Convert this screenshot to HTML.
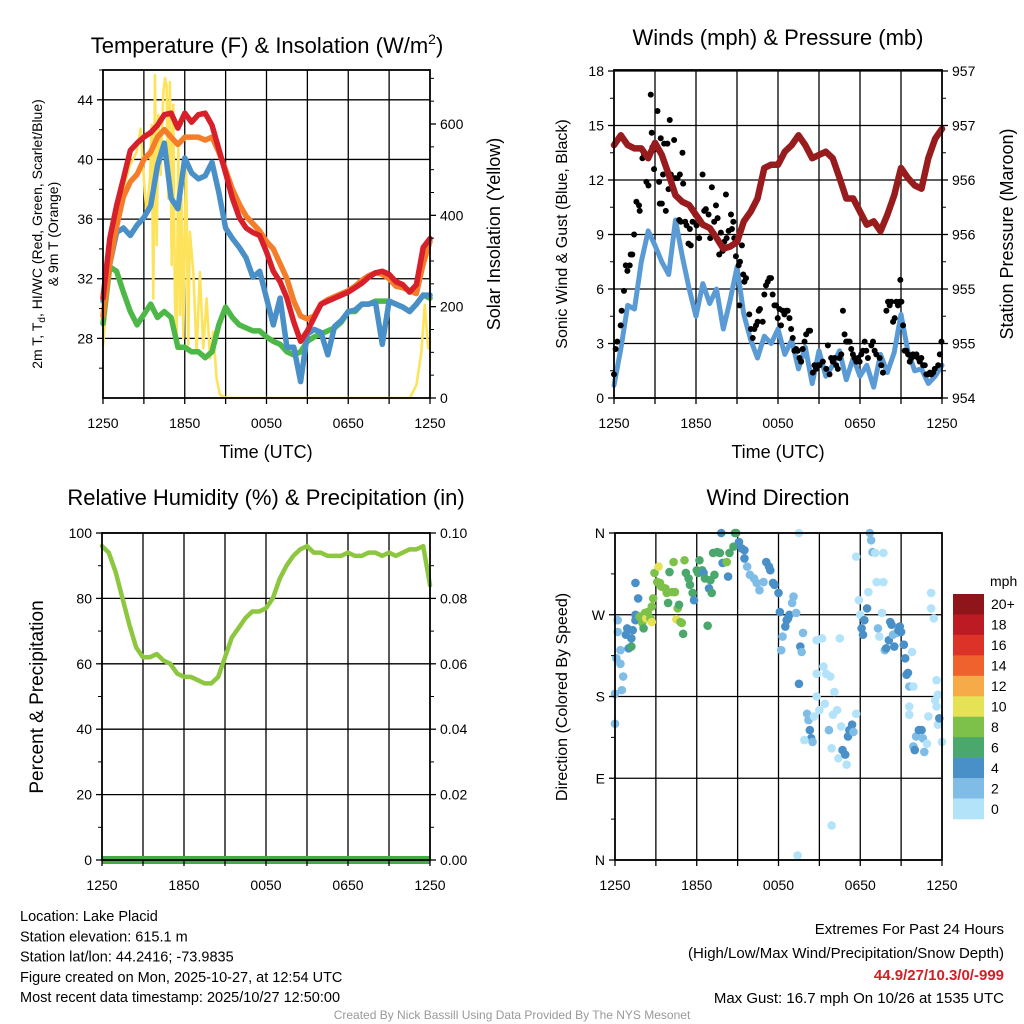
<!DOCTYPE html>
<html><head><meta charset="utf-8"><style>
html,body{margin:0;padding:0;background:#fff;}
svg{display:block;font-family:"Liberation Sans",sans-serif;}
</style></head><body>
<svg id="c" width="1024" height="1024" viewBox="0 0 1024 1024" xmlns="http://www.w3.org/2000/svg">
<g id="g"></g>
</svg>
<script>
// ===== Panel 1 data (hours since 1250 UTC, half-hourly) =====
const tempT   = [30.7,34.7,36.9,38.7,40.6,41.1,41.5,41.8,42.3,43.0,43.1,42.1,43.1,42.5,43.0,43.1,42.3,40.7,39.1,37.4,36.1,35.4,35.1,34.9,33.8,32.5,31.8,30.7,29.1,27.8,28.5,29.4,30.3,30.5,30.7,30.9,31.1,31.4,31.7,32.1,32.4,32.5,32.3,31.8,31.6,31.1,31.6,34.1,34.7];
const temp9m  = [29.5,33.0,35.5,37.5,38.5,39.0,40.0,40.5,41.5,42.0,41.5,41.0,41.5,41.5,41.5,41.3,41.5,40.5,39.3,38.0,37.0,36.2,35.7,35.2,34.5,34.0,33.0,32.0,30.5,29.5,29.3,29.5,30.3,30.6,30.8,31.0,31.2,31.5,31.9,32.2,32.4,32.3,32.0,31.5,31.4,31.2,31.0,33.0,34.5];
const tempWC  = [30.5,33.0,35.1,35.4,34.9,35.6,36.1,36.9,39.6,41.1,37.4,36.7,40.1,39.1,38.7,38.9,39.8,37.8,35.4,34.7,34.1,33.4,32.1,32.5,30.7,28.9,30.7,27.4,27.4,25.1,28.3,28.6,28.4,26.9,28.8,29.2,29.8,29.9,30.3,30.3,30.4,27.6,30.5,30.3,30.1,29.8,30.3,30.9,30.9];
const tempTd  = [29.0,32.8,32.5,31.1,29.8,28.9,29.6,30.3,29.4,29.8,29.4,27.4,27.4,27.1,27.1,26.7,27.1,28.9,30.1,29.4,28.9,28.7,28.5,28.5,28.1,27.8,27.6,27.1,26.9,27.1,27.8,28.1,28.3,28.5,28.7,29.1,29.8,29.8,30.3,30.3,30.5,30.5,30.5,30.3,30.1,29.8,30.3,30.9,30.7];
const solarT  = [0,0.51,1.0,1.49,1.98,2.47,2.76,2.96,3.2,3.45,3.57,3.69,3.81,3.94,4.06,4.23,4.43,4.55,4.67,4.79,4.91,5.04,5.16,5.28,5.4,5.53,5.65,5.77,5.89,6.09,6.26,6.38,6.63,6.87,7.11,7.36,7.6,7.85,8.09,8.34,8.58,9.07,22.52,23.0,23.37,23.62,23.86,24];
const solarV  = [116,276,379,459,510,539,590,496,401,481,598,218,707,335,620,488,671,700,685,437,692,291,642,218,123,547,182,437,131,525,116,364,276,101,276,109,218,87,145,43,7,0,0,28,101,204,109,123];
const timeTicks = ["1250","1850","0050","0650","1250"];
const tempTicks = [28,32,36,40,44];
const solarTicks = [0,200,400,600];
// ===== Panel 2 data =====
const windV = [0.7,2.7,5.1,4.9,7.5,9.2,8.4,7.5,6.8,9.8,7.8,6.0,4.5,6.3,5.2,6.0,3.8,5.4,7.2,4.6,3.2,2.2,3.4,3.0,3.8,2.4,3.2,1.6,2.8,0.8,2.6,1.2,1.8,2.6,1.0,2.2,1.2,1.8,0.6,2.4,1.4,2.5,4.6,2.6,1.5,1.6,0.8,1.2,1.8];
const presV = [956.32,956.41,956.32,956.29,956.29,956.2,956.34,956.23,956.05,955.86,955.8,955.77,955.68,955.59,955.56,955.47,955.37,955.39,955.43,955.62,955.71,955.83,956.11,956.14,956.14,956.26,956.32,956.41,956.32,956.2,956.23,956.26,956.2,956.02,955.83,955.83,955.71,955.59,955.62,955.53,955.68,955.86,956.11,956.02,955.95,955.92,956.2,956.38,956.47];
const gustT = [0,0.12,0.24,0.49,0.56,0.73,0.86,0.98,1.15,1.22,1.34,1.47,1.64,1.83,1.88,2.08,2.2,2.37,2.52,2.69,2.76,2.81,2.93,3.06,3.18,3.3,3.35,3.42,3.5,3.59,3.67,3.79,3.91,3.99,4.08,4.16,4.28,4.4,4.47,4.65,4.77,4.82,4.89,5.01,5.06,5.21,5.31,5.45,5.55,5.62,5.75,5.94,6.04,6.23,6.36,6.48,6.6,6.72,6.92,7.04,7.16,7.33,7.46,7.58,7.7,7.82,7.95,8.07,8.19,8.24,8.39,8.56,8.63,8.73,8.8,8.92,9.12,9.17,9.22,9.36,9.46,9.54,9.66,9.9,10.02,10.15,10.27,10.39,10.51,10.59,10.68,10.88,11.0,11.12,11.25,11.37,11.49,11.61,11.74,11.86,11.98,12.1,12.22,12.35,12.47,12.59,12.71,12.84,12.96,13.08,13.2,13.33,13.45,13.57,13.69,13.81,13.94,14.06,14.25,14.35,14.55,14.67,14.79,14.91,15.04,15.28,15.53,15.65,15.77,15.89,16.01,16.14,16.26,16.38,16.5,16.63,16.75,16.87,16.99,17.11,17.24,17.36,17.48,17.6,17.73,17.85,17.97,18.09,18.22,18.34,18.46,18.58,18.83,18.95,19.07,19.19,19.44,19.56,19.68,19.93,20.05,20.17,20.29,20.42,20.54,20.66,20.78,20.9,20.95,21.03,21.15,21.27,21.39,21.52,21.64,21.76,21.88,22.0,22.13,22.25,22.37,22.49,22.62,22.74,22.86,22.98,23.11,23.23,23.35,23.47,23.72,23.84,23.96];
const gustV = [1.3,2.7,3.1,4.0,4.8,5.9,7.3,7.0,7.3,7.9,7.9,9.0,10.8,10.6,10.3,13.2,13.4,11.9,11.7,16.7,14.6,13.8,12.6,13.7,15.8,11.9,10.7,14.3,10.7,12.3,14.0,10.3,14.0,11.5,15.3,12.3,12.1,14.2,12.1,12.1,9.8,12.3,9.7,13.5,11.8,9.7,9.5,8.5,9.3,8.4,9.7,10.1,9.5,8.8,9.7,12.3,10.3,10.4,10.1,8.8,11.6,9.7,10.6,9.9,7.9,9.1,8.1,8.6,11.2,8.8,9.2,10.1,9.3,9.7,8.8,7.8,7.3,5.1,7.5,8.4,6.8,6.4,6.6,4.6,3.8,3.3,3.8,4.0,4.2,4.8,4.9,4.2,5.7,6.2,6.4,6.6,6.6,5.7,5.1,5.1,4.4,4.9,4.0,4.8,4.6,4.8,4.8,4.4,3.8,3.3,2.6,2.7,2.6,2.2,2.0,2.7,3.1,3.5,3.7,3.7,1.4,1.8,1.6,1.8,1.8,2.0,1.6,2.9,1.3,2.2,2.0,2.2,1.8,1.6,2.2,2.4,4.8,3.5,3.1,3.1,3.1,2.7,2.4,2.2,2.0,2.2,2.0,2.4,2.6,3.1,2.6,2.2,2.9,3.1,2.6,2.4,2.2,1.8,1.4,4.8,5.3,5.1,5.3,4.2,4.4,5.3,5.1,5.3,6.5,5.3,4.0,2.6,2.6,2.4,2.0,2.2,2.4,2.3,2.4,2.2,2.0,2.2,1.8,1.8,1.3,1.3,1.4,1.3,1.4,1.6,1.8,2.4,3.1];
const windTicks = [0,3,6,9,12,15,18];
const presTicks = [954,954.5,955,955.5,956,956.5,957];
// ===== Panel 3 data =====
const rhV = [96,94,88,80,72,65,62,62,63,61,60,57,56,56,55,54,54,56,62,68,71,74,76,76,77,80,86,90,93,95,96,94,94,93,93,93,94,93,93,94,94,93,94,93,94,95,95,96,84];
const precipV = [0,0,0,0,0,0,0,0,0,0,0,0,0,0,0,0,0,0,0,0,0,0,0,0,0,0,0,0,0,0,0,0,0,0,0,0,0,0,0,0,0,0,0,0,0,0,0,0,0];
const rhTicks = [0,20,40,60,80,100];
const precipTicks = ["0.00","0.02","0.04","0.06","0.08","0.10"];
// ===== Panel 4 data =====
const dirT = [0.0,0.0,0.1,0.2,0.4,0.5,0.6,0.4,0.2,0.9,0.8,1.0,1.2,1.2,1.3,1.5,1.5,1.7,1.5,1.8,2.0,2.1,2.2,2.3,2.4,2.6,2.7,2.7,2.8,2.9,3.1,3.2,3.3,3.4,3.7,3.8,3.9,4.0,4.2,4.3,4.4,4.5,4.6,4.7,4.8,4.9,5.0,5.1,5.2,5.4,5.5,5.7,5.8,6.0,6.1,6.2,6.4,6.5,6.6,6.8,6.9,7.0,7.1,7.2,7.3,7.5,7.7,7.8,7.9,8.2,8.3,8.4,8.7,8.8,8.9,9.1,9.3,9.5,9.5,9.7,9.9,10.2,10.4,10.6,10.9,11.1,11.3,11.4,11.6,11.7,12.0,12.1,12.3,12.5,12.6,12.7,12.8,13.0,13.1,13.3,13.6,13.7,13.8,12.2,13.5,13.5,14.1,14.2,14.3,14.4,14.5,13.9,14.6,14.8,14.8,14.8,15.0,15.2,15.3,15.4,15.5,15.7,15.8,15.9,16.0,16.1,16.3,16.4,16.5,16.6,16.7,16.9,17.0,17.1,17.2,17.4,17.5,17.7,17.7,17.9,18.0,18.1,18.2,18.3,18.5,18.6,18.7,18.8,18.9,19.1,19.2,19.3,19.4,19.6,19.7,19.7,19.8,19.9,20.1,20.2,20.3,20.4,20.5,20.7,20.8,20.9,21.0,21.2,21.3,21.4,21.5,21.6,21.8,21.9,21.6,21.6,21.9,22.0,22.1,22.3,22.5,22.6,22.7,22.9,23.0,23.2,23.2,23.4,23.5,23.6,23.6,23.7,23.7,23.8,24.0,15.9,13.4];
const dirV = [150,183,222,264,216,187,202,231,251,255,248,233,235,244,253,270,264,288,305,268,261,255,272,266,273,266,262,279,288,316,306,323,305,301,299,294,283,317,295,328,295,265,277,281,262,261,249,330,316,310,303,294,286,319,316,330,319,316,310,258,299,308,294,338,314,339,338,360,327,328,312,338,345,360,360,350,343,341,332,323,314,310,305,297,306,328,323,319,305,303,294,273,246,257,264,266,270,283,290,272,235,229,250,231,194,360,161,154,143,134,130,132,158,242,180,205,165,244,213,172,205,143,202,123,160,185,165,112,244,147,121,116,105,136,143,149,141,161,334,286,270,255,248,264,277,295,360,352,339,338,306,255,246,272,338,306,231,233,242,262,259,248,235,250,253,257,251,237,222,204,206,191,229,191,169,160,125,121,136,143,143,134,119,128,158,294,277,266,176,198,169,182,149,156,130,38,5];
const dirSpd = [3,3,3,3,3,3,3,3,3,5,5,5,7,5,5,5,5,5,5,9,9,7,9,11,9,9,11,9,9,9,9,11,9,9,9,9,7,7,9,9,9,11,9,7,9,9,7,9,7,7,7,7,5,7,7,7,7,5,7,7,5,7,7,7,7,7,7,5,5,9,5,7,7,7,7,5,5,5,5,3,3,3,3,3,3,5,5,5,5,5,5,5,3,5,5,5,5,3,3,3,5,3,3,3,5,1,3,3,5,5,3,1,1,1,1,1,1,1,1,1,1,3,1,1,1,1,1,1,1,1,5,5,1,5,5,5,3,1,1,1,1,5,5,5,5,1,3,3,3,1,1,3,1,1,1,1,3,5,5,5,5,3,5,3,5,5,5,5,5,5,5,3,1,1,1,1,3,5,3,5,5,3,3,1,1,1,1,1,1,1,1,1,1,5,1,1];
const dirTicks = ["N","E","S","W","N"];
const speedBins = ["0","2","4","6","8","10","12","14","16","18","20+"];
const speedColors = ["#b3e3f9","#7fbce6","#4a90c8","#4aa86c","#7dc14a","#e6e256","#f6ab48","#f0622d","#dc3227","#bd1b24","#8f151a"];

const NS = "http://www.w3.org/2000/svg";
const root = document.getElementById("g");
function el(tag, attrs, parent, text){
  const e = document.createElementNS(NS, tag);
  for (const k in attrs) e.setAttribute(k, attrs[k]);
  if (text !== undefined) e.textContent = text;
  (parent || root).appendChild(e);
  return e;
}
function mkPanel(x0,y0,x1,y1){
  return {x0,y0,x1,y1, sx:t=>x0+(x1-x0)*t/24};
}
function lin(d0,d1,p0,p1){return v=>p0+(v-d0)*(p1-p0)/(d1-d0);}
const P1 = mkPanel(103,70,430,398), P2 = mkPanel(614,70,942,398), P3 = mkPanel(102,533,430,860), P4 = mkPanel(615,533,942,860);
const y1L = lin(24,46,398,70), y1R = lin(0,600,398,124);
const y2L = lin(0,18,398,71), y2R = lin(954,957,398,71);
const y3L = lin(0,100,860,533), y3R = lin(0,0.1,860,533);
const y4 = lin(0,360,860,533);

function grid(P, hy, name){
  const g = el("g",{});
  
  
  for (let i=1;i<8;i++){ const x=P.sx(i*3); el("line",{x1:x,y1:P.y0,x2:x,y2:P.y1,stroke:"#000","stroke-width":1.3},g); }
  hy.forEach(y=>el("line",{x1:P.x0,y1:y,x2:P.x1,y2:y,stroke:"#000","stroke-width":1.3},g));
}
function frame(P, name){
  const r = el("rect",{x:P.x0,y:P.y0,width:P.x1-P.x0,height:P.y1-P.y0,fill:"none",stroke:"#000","stroke-width":1.8});
  
  
  const g = el("g",{});
  
  
  for (let i=0;i<=8;i++){ const x=P.sx(i*3); el("line",{x1:x,y1:P.y1,x2:x,y2:P.y1+6,stroke:"#000","stroke-width":1.3},g); }
  timeTicks.forEach((s,i)=>{
    const t = el("text",{x:P.sx(i*6),y:P.y1+30,"font-size":14,"text-anchor":"middle"},g,s);
    
    
  });
}
function yTicks(P, vals, labels, sy, side, name, minor){
  const g = el("g",{});
  
  
  const x = side==="L"?P.x0:P.x1, d = side==="L"?-1:1;
  vals.forEach((v,i)=>{
    const y = sy(v);
    el("line",{x1:x,y1:y,x2:x+d*6,y2:y,stroke:"#000","stroke-width":1.3},g);
    const t = el("text",{x:x+d*10,y:y+5,"font-size":14,"text-anchor":side==="L"?"end":"start"},g,labels[i]);
    
    
  });
  if (minor) minor.forEach(v=>{ const y=sy(v); el("line",{x1:x,y1:y,x2:x+d*4,y2:y,stroke:"#000","stroke-width":1},g); });
}
function path(pts, attrs, name){
  const p = el("path", Object.assign({d:"M"+pts.map(p=>p[0].toFixed(1)+","+p[1].toFixed(1)).join("L"),fill:"none","stroke-linejoin":"round","stroke-linecap":"round"},attrs));
  
  
  return p;
}
function txt(x,y,s,size,attrs,name){
  const t = el("text",Object.assign({x,y,"font-size":size},attrs||{}),root,s);
  
  
  return t;
}
const half = i=>i*0.5;

// ---------- Panel 1 ----------
grid(P1, tempTicks.map(y1L), "temp-panel");
path(solarT.map((t,i)=>[P1.sx(t), y1R(solarV[i])]), {stroke:"#fde35b","stroke-width":2.6}, "solar-insolation-line");
path(tempTd.map((v,i)=>[P1.sx(half(i)), y1L(v)]), {stroke:"#4db848","stroke-width":5.5}, "dewpoint-line");
path(tempWC.map((v,i)=>[P1.sx(half(i)), y1L(v)]), {stroke:"#4a90c8","stroke-width":5.5}, "windchill-line");
path(temp9m.map((v,i)=>[P1.sx(half(i)), y1L(v)]), {stroke:"#f47d2a","stroke-width":5.5}, "temp-9m-line");
path(tempT.map((v,i)=>[P1.sx(half(i)), y1L(v)]), {stroke:"#d7202a","stroke-width":5.5}, "temp-2m-line");
frame(P1,"temp-panel");
yTicks(P1, tempTicks, tempTicks.map(String), y1L, "L", "temp-y-axis", [26,30,34,38,42,46]);
yTicks(P1, solarTicks, solarTicks.map(String), y1R, "R", "solar-y-axis", [50,100,150,250,300,350,450,500,550,650,700]);
const t1 = txt(267,53,"Temperature (F) & Insolation (W/m",22,{"text-anchor":"middle"},"temp-panel-title");
el("tspan",{dy:-9,"font-size":14},t1,"2"); el("tspan",{dy:9},t1,")");
txt(266,458,"Time (UTC)",18,{"text-anchor":"middle"},"temp-x-axis-title");
const yl = txt(0,0,"",14,{transform:"translate(42,234) rotate(-90)","text-anchor":"middle"},"temp-y-axis-title");
yl.textContent="2m T, T";
el("tspan",{dy:3,"font-size":10},yl,"d"); el("tspan",{dy:-3},yl,", HI/WC (Red, Green, Scarlet/Blue)");
txt(0,0,"& 9m T (Orange)",14,{transform:"translate(58,234) rotate(-90)","text-anchor":"middle"},"temp-y-axis-title-line2");
txt(0,0,"Solar Insolation (Yellow)",18,{transform:"translate(500,234) rotate(-90)","text-anchor":"middle"},"solar-y-axis-title");

// ---------- Panel 2 ----------
grid(P2, windTicks.map(y2L), "wind-panel");
path(windV.map((v,i)=>[P2.sx(half(i)), y2L(v)]), {stroke:"#5b9bd5","stroke-width":5}, "sonic-wind-line");
gustT.forEach((t,i)=>{
  if (gustV[i]===undefined) return;
  const c = el("circle",{cx:P2.sx(t),cy:y2L(gustV[i]),r:3,fill:"#000"});
  
  
});
path(presV.map((v,i)=>[P2.sx(half(i)), y2R(v)]), {stroke:"#981b1e","stroke-width":6.5}, "pressure-line");
frame(P2,"wind-panel");
yTicks(P2, windTicks, windTicks.map(String), y2L, "L", "wind-y-axis", [1.5,4.5,7.5,10.5,13.5,16.5]);
yTicks(P2, presTicks, presTicks.map(v=>String(Math.round(v+0.001))), y2R, "R", "pressure-y-axis", [954.25,954.75,955.25,955.75,956.25,956.75]);
txt(778,45,"Winds (mph) & Pressure (mb)",22,{"text-anchor":"middle"},"wind-panel-title");
txt(778,458,"Time (UTC)",18,{"text-anchor":"middle"},"wind-x-axis-title");
txt(0,0,"Sonic Wind & Gust (Blue, Black)",16,{transform:"translate(567,234) rotate(-90)","text-anchor":"middle"},"wind-y-axis-title");
txt(0,0,"Station Pressure (Maroon)",18,{transform:"translate(1013,234) rotate(-90)","text-anchor":"middle"},"pressure-y-axis-title");

// ---------- Panel 3 ----------
grid(P3, rhTicks.map(y3L), "rh-panel");
path(rhV.map((v,i)=>[P3.sx(half(i)), y3L(v)]), {stroke:"#8dc63f","stroke-width":4.5}, "humidity-line");
path(precipV.map((v,i)=>[P3.sx(half(i)), y3R(v)]), {stroke:"#43aa45","stroke-width":8,"stroke-linecap":"butt"}, "precipitation-line");
frame(P3,"rh-panel");
yTicks(P3, rhTicks, rhTicks.map(String), y3L, "L", "rh-y-axis", [10,30,50,70,90]);
yTicks(P3, rhTicks, precipTicks, y3L, "R", "precip-y-axis", [10,30,50,70,90]);
txt(266,505,"Relative Humidity (%) & Precipitation (in)",22,{"text-anchor":"middle"},"rh-panel-title");
txt(0,0,"Percent & Precipitation",19,{transform:"translate(43,697) rotate(-90)","text-anchor":"middle"},"rh-y-axis-title");

// ---------- Panel 4 ----------
grid(P4, [0,90,180,270,360].map(y4), "direction-panel");
dirT.forEach((t,i)=>{
  if (dirV[i]===undefined) return;
  const s = dirSpd[i]===undefined?1:dirSpd[i];
  const b = Math.min(10, Math.floor(s/2));
  const c = el("circle",{cx:P4.sx(t),cy:y4(dirV[i]),r:4.3,fill:speedColors[b]});
  
  
});
frame(P4,"direction-panel");
yTicks(P4, [0,90,180,270,360], dirTicks, y4, "L", "direction-y-axis", [45,135,225,315]);
txt(778,505,"Wind Direction",22,{"text-anchor":"middle"},"direction-panel-title");
txt(0,0,"Direction (Colored By Speed)",16,{transform:"translate(567,697) rotate(-90)","text-anchor":"middle"},"direction-y-axis-title");
const cb = el("g",{});


const cbTop=594, cbH=225/speedBins.length;
speedColors.slice().reverse().forEach((col,i)=>{
  el("rect",{x:953,y:cbTop+i*cbH,width:31,height:cbH+0.3,fill:col},cb);
});
speedBins.slice().reverse().forEach((s,i)=>{
  const t = el("text",{x:991,y:cbTop+i*cbH+cbH/2+5,"font-size":14},cb,s);
  
  
});
txt(990,586,"mph",14,{},"colorbar-title");

// ---------- Footer text ----------
const info = ["Location: Lake Placid","Station elevation: 615.1 m","Station lat/lon: 44.2416; -73.9835","Figure created on Mon, 2025-10-27, at 12:54 UTC","Most recent data timestamp: 2025/10/27 12:50:00"];
info.forEach((s,i)=>txt(20,921+i*20.3,s,14.5,{},"station-info-line"));
txt(1004,934,"Extremes For Past 24 Hours",15,{"text-anchor":"end"},"extremes-title");
txt(1004,958,"(High/Low/Max Wind/Precipitation/Snow Depth)",15,{"text-anchor":"end"},"extremes-legend");
txt(1004,980,"44.9/27/10.3/0/-999",15,{"text-anchor":"end",fill:"#d21f26","font-weight":"bold"},"extremes-values");
txt(1004,1003,"Max Gust: 16.7 mph On 10/26 at 1535 UTC",15,{"text-anchor":"end"},"max-gust");
txt(512,1019,"Created By Nick Bassill Using Data Provided By The NYS Mesonet",12,{"text-anchor":"middle",fill:"#999"},"credit-footer");
</script>
</body></html>
